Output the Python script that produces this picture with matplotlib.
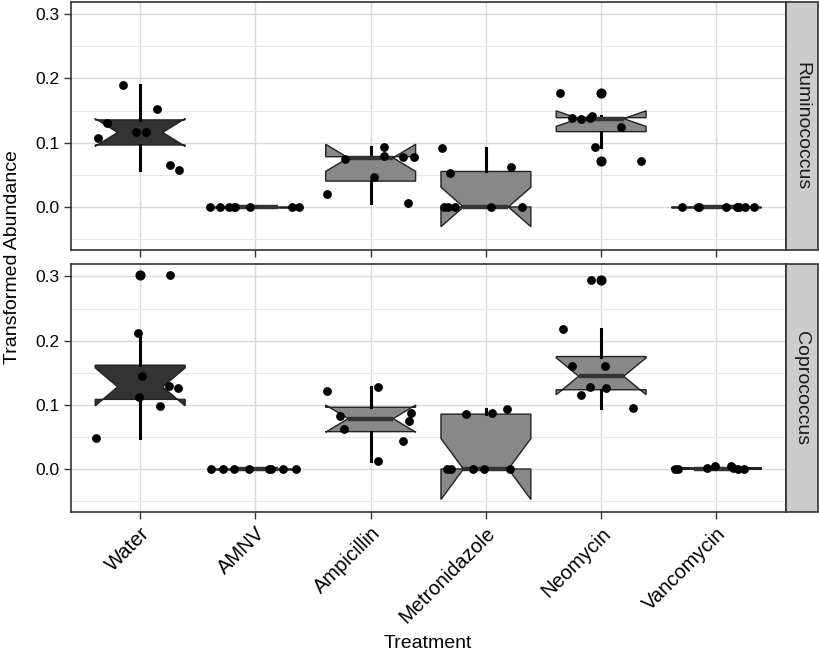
import matplotlib.pyplot as plt
from matplotlib.patches import Rectangle

plt.rcParams['font.family'] = ['Liberation Sans', 'DejaVu Sans']

treatments = ["Water", "AMNV", "Ampicillin", "Metronidazole", "Neomycin", "Vancomycin"]
genera = ["Ruminococcus", "Coprococcus"]

# transformed abundance per mouse, one list per treatment
rumino_vals = [
    [0.107, 0.130, 0.190, 0.116, 0.116, 0.152, 0.065, 0.058],
    [0, 0, 0, 0, 0, 0, 0, 0],
    [0.020, 0.075, 0.047, 0.093, 0.079, 0.078, 0.078, 0.006],
    [0.092, 0.053, 0, 0, 0, 0.062, 0, 0],
    [0.178, 0.138, 0.137, 0.138, 0.142, 0.125, 0.094, 0.071],
    [0, 0, 0, 0, 0, 0, 0, 0],
]
copro_vals = [
    [0.303, 0.212, 0.145, 0.112, 0.130, 0.126, 0.098, 0.049],
    [0, 0, 0, 0, 0, 0, 0, 0],
    [0.121, 0.128, 0.082, 0.063, 0.088, 0.075, 0.044, 0.012],
    [0.085, 0.087, 0.094, 0, 0, 0, 0, 0],
    [0.294, 0.218, 0.161, 0.161, 0.128, 0.116, 0.126, 0.095],
    [0, 0, 0.001, 0.004, 0.004, 0.001, 0, 0],
]

# horizontal jitter of the points (category units)
rumino_jit = [
    [-0.37, -0.29, -0.15, -0.04, 0.05, 0.15, 0.26, 0.34],
    [-0.39, -0.31, -0.23, -0.19, -0.18, -0.05, 0.32, 0.38],
    [-0.38, -0.22, 0.03, 0.12, 0.12, 0.28, 0.38, 0.32],
    [-0.38, -0.31, -0.36, -0.27, 0.04, 0.22, 0.31, -0.33],
    [-0.36, -0.25, -0.175, -0.10, -0.08, 0.17, -0.05, 0.345],
    [-0.30, -0.16, 0.08, 0.18, 0.25, 0.33, 0.20, -0.15],
]
copro_jit = [
    [0.26, -0.02, 0.02, -0.01, 0.25, 0.33, 0.175, -0.38],
    [-0.385, -0.285, -0.184, -0.054, 0.12, 0.138, 0.236, 0.351],
    [-0.38, 0.06, -0.27, -0.23, 0.35, 0.33, 0.28, 0.06],
    [-0.175, 0.05, 0.185, -0.34, -0.30, -0.11, -0.02, 0.21],
    [-0.09, -0.33, -0.25, 0.03, -0.10, -0.175, 0.04, 0.28],
    [-0.36, -0.33, -0.08, -0.01, 0.13, 0.14, 0.19, 0.24],
]

fills = ["#333333", "#888888", "#888888", "#888888", "#888888", "#888888"]

fig = plt.figure(figsize=(8.2, 6.55), dpi=100)
left, right = 0.0866, 0.958
ax1 = fig.add_axes([left, 0.6183, right - left, 0.9974 - 0.6183])
ax2 = fig.add_axes([left, 0.2183, right - left, 0.597 - 0.2183])

pos = list(range(1, len(treatments) + 1))
for ax, vals, jit, name in [(ax1, rumino_vals, rumino_jit, genera[0]),
                            (ax2, copro_vals, copro_jit, genera[1])]:
    bp = ax.boxplot(vals, positions=pos, widths=0.78, notch=True, patch_artist=True,
                    showcaps=False, whis=1.5,
                    boxprops=dict(edgecolor="#222222", linewidth=1.0),
                    medianprops=dict(color="#333333", linewidth=3.2, solid_capstyle="butt"),
                    whiskerprops=dict(color="black", linewidth=2.2),
                    flierprops=dict(marker="o", markerfacecolor="black", markeredgecolor="black",
                                    markersize=6.3))
    for patch, c in zip(bp["boxes"], fills):
        patch.set_facecolor(c)
    for i, (v, j) in enumerate(zip(vals, jit)):
        ax.scatter([pos[i] + d for d in j], v, s=40, color="black", zorder=5, linewidths=0)

    ax.set_xlim(0.4, 6.6)
    ax.set_ylim(-0.067, 0.3195)
    ax.set_yticks([0.0, 0.1, 0.2, 0.3])
    ax.set_yticklabels(["0.0", "0.1", "0.2", "0.3"])
    ax.set_yticks([-0.05, 0.05, 0.15, 0.25], minor=True)
    ax.grid(True, which="major", color="#d9d9d9", linewidth=1.0)
    ax.grid(True, which="minor", axis="y", color="#e6e6e6", linewidth=0.8)
    ax.set_axisbelow(True)
    ax.tick_params(which="major", length=5, width=1, color="#333333", labelsize=12.5,
                   labelcolor="black")
    ax.tick_params(which="minor", length=0)
    for s in ax.spines.values():
        s.set_color("#333333")
        s.set_linewidth(1.2)

    # facet strip on the right
    bb = ax.get_position()
    strip = Rectangle((bb.x1, bb.y0), 0.0396, bb.height, transform=fig.transFigure,
                      facecolor="#cccccc", edgecolor="#333333", linewidth=1.2)
    fig.add_artist(strip)
    fig.text(bb.x1 + 0.0198, (bb.y0 + bb.y1) / 2, name, rotation=-90, ha="center",
             va="center", fontsize=14, color="#1a1a1a")

ax1.set_xticks(pos)
ax1.set_xticklabels([])
ax2.set_xticks(pos)
ax2.set_xticklabels(treatments, rotation=45, ha="right", va="top", rotation_mode="anchor",
                    fontsize=14.5)

fig.text(0.015, 0.6076, "Transformed Abundance", rotation=90, ha="center", va="center",
         fontsize=14)
fig.text(0.522, 0.017, "Treatment", ha="center", va="center", fontsize=14)

fig.savefig("out.png", dpi=100)
